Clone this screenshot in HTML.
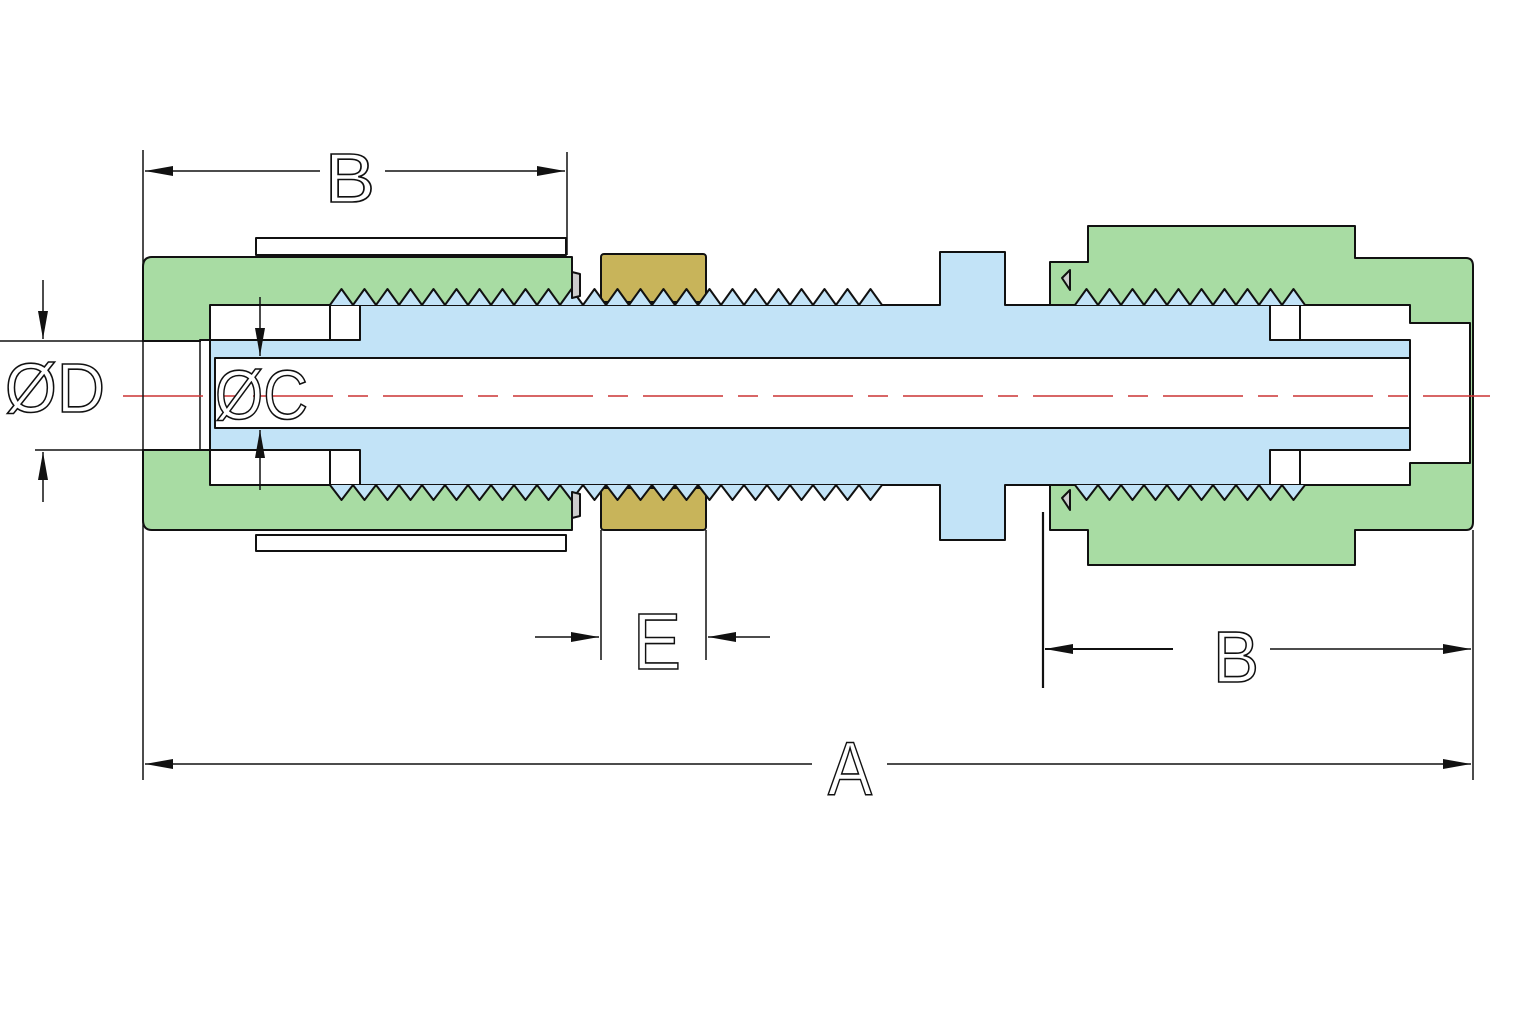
<!DOCTYPE html>
<html><head><meta charset="utf-8"><style>
html,body{margin:0;padding:0;background:#fff}
svg{display:block}
text{font-family:"Liberation Sans",sans-serif;fill:#fff;stroke:#111;stroke-width:1.6}
</style></head><body>
<svg id="s" width="1536" height="1024" viewBox="0 0 1536 1024" xmlns="http://www.w3.org/2000/svg">
<defs>
<marker id="ar" viewBox="0 0 10 10" refX="10" refY="5" markerWidth="28" markerHeight="10" orient="auto" markerUnits="userSpaceOnUse" preserveAspectRatio="none"><path d="M0,0 L10,5 L0,10 z" fill="#111"/></marker>
</defs>
<g stroke="#111" stroke-width="2" stroke-linejoin="round">
<!-- left nut -->
<path d="M152,257 H572 V305 H210 V340 H200 V450 H210 V485 H572 V530 H152 Q143,530 143,520 V267 Q143,257 152,257 Z" fill="#a8dca3"/>
<rect x="141" y="342" width="68" height="107" fill="#fff" stroke="none"/>
<line x1="143" y1="341" x2="200" y2="341"/><line x1="143" y1="450" x2="200" y2="450"/>
<line x1="200" y1="341" x2="200" y2="450" stroke-width="1.5"/>
<rect x="256" y="238" width="310" height="17" fill="#fff"/>
<rect x="256" y="535" width="310" height="16" fill="#fff"/>
<!-- right nut -->
<path d="M1088,226 H1355 V258 H1466 Q1473,258 1473,266 V522 Q1473,530 1466,530 H1355 V565 H1088 V530 H1050 V485 H1410 V463 H1470 V323 H1410 V305 H1050 V262 H1088 Z" fill="#a8dca3"/>
<!-- brass -->
<rect x="601" y="254" width="105" height="48" rx="3" fill="#c8b45a"/>
<rect x="601" y="488" width="105" height="42" rx="3" fill="#c8b45a"/>
<!-- blue body -->
<path d="M330,305 H940 V252 H1005 V305 H1300 V340 H1410 V450 H1300 V485 H1005 V540 H940 V485 H330 V450 H210 V340 H330 Z" fill="#c2e3f7"/>
<rect x="215" y="358" width="1195" height="70" fill="#fff"/>
<line x1="215" y1="358" x2="1315" y2="358"/><line x1="215" y1="428" x2="1315" y2="428"/>
<rect x="330" y="305" width="30" height="35" fill="#fff"/><rect x="330" y="450" width="30" height="35" fill="#fff"/>
<rect x="1270" y="305" width="30" height="35" fill="#fff"/><rect x="1270" y="450" width="30" height="35" fill="#fff"/>
<polyline id="t1" fill="#c2e3f7"/><polyline id="t2" fill="#c2e3f7"/>
<polyline id="t3" fill="#c2e3f7"/><polyline id="t4" fill="#c2e3f7"/>
<path d="M572,272 l8,2 v22 l-8,2 z M572,492 l8,2 v22 l-8,2z M1070,270 l-8,8 l8,12z M1070,490 l-8,8 l8,12z" fill="#ccc"/>
</g>
<!-- centerline -->
<line x1="123" y1="396" x2="1490" y2="396" stroke="#c33" stroke-width="1.5" stroke-dasharray="80,15,20,15"/>
<!-- dimensions -->
<g stroke="#111" stroke-width="1.5" fill="none">
<line x1="143" y1="150" x2="143" y2="780"/><line x1="567" y1="152" x2="567" y2="255"/>
<line x1="320" y1="171" x2="145" y2="171" marker-end="url(#ar)"/>
<line x1="385" y1="171" x2="565" y2="171" marker-end="url(#ar)"/>
<line x1="0" y1="341" x2="143" y2="341"/><line x1="35" y1="450" x2="143" y2="450"/>
<line x1="43" y1="280" x2="43" y2="339" marker-end="url(#ar)"/>
<line x1="43" y1="502" x2="43" y2="452" marker-end="url(#ar)"/>
<line x1="260" y1="297" x2="260" y2="356" marker-end="url(#ar)"/>
<line x1="260" y1="490" x2="260" y2="430" marker-end="url(#ar)"/>
<line x1="601" y1="530" x2="601" y2="660"/><line x1="706" y1="530" x2="706" y2="660"/>
<line x1="535" y1="637" x2="599" y2="637" marker-end="url(#ar)"/>
<line x1="770" y1="637" x2="708" y2="637" marker-end="url(#ar)"/>
<line x1="1043" y1="512" x2="1043" y2="688" stroke-width="2.2"/><line x1="1473" y1="530" x2="1473" y2="780"/>
<line x1="1173" y1="649" x2="1045" y2="649" marker-end="url(#ar)" stroke-width="2"/>
<line x1="1270" y1="649" x2="1471" y2="649" marker-end="url(#ar)"/>
<line x1="812" y1="764" x2="145" y2="764" marker-end="url(#ar)"/>
<line x1="887" y1="764" x2="1471" y2="764" marker-end="url(#ar)"/>
</g>
<text x="325" y="202" font-size="70" textLength="50" lengthAdjust="spacingAndGlyphs">B</text>
<text x="5" y="412" font-size="70" textLength="100" lengthAdjust="spacingAndGlyphs">ØD</text>
<text x="215" y="419" font-size="70" textLength="93" lengthAdjust="spacingAndGlyphs">ØC</text>
<text x="633" y="669" font-size="80" textLength="48" lengthAdjust="spacingAndGlyphs">E</text>
<text x="1213" y="682" font-size="72" textLength="46" lengthAdjust="spacingAndGlyphs">B</text>
<text x="828" y="795" font-size="76" textLength="44" lengthAdjust="spacingAndGlyphs">A</text>
</svg>
<script>
function teeth(id,x0,x1,base,tip){var p=[];var pitch=23;p.push(x0+','+base);for(var x=x0;x+pitch<=x1+1;x+=pitch){p.push((x+pitch/2)+','+tip);p.push((x+pitch)+','+base);}
document.getElementById(id).setAttribute('points',p.join(' '));}
teeth('t1',330,895,305,289);teeth('t2',330,895,485,500);
teeth('t3',1075,1305,305,289);teeth('t4',1075,1305,485,500);
</script>
</body></html>
